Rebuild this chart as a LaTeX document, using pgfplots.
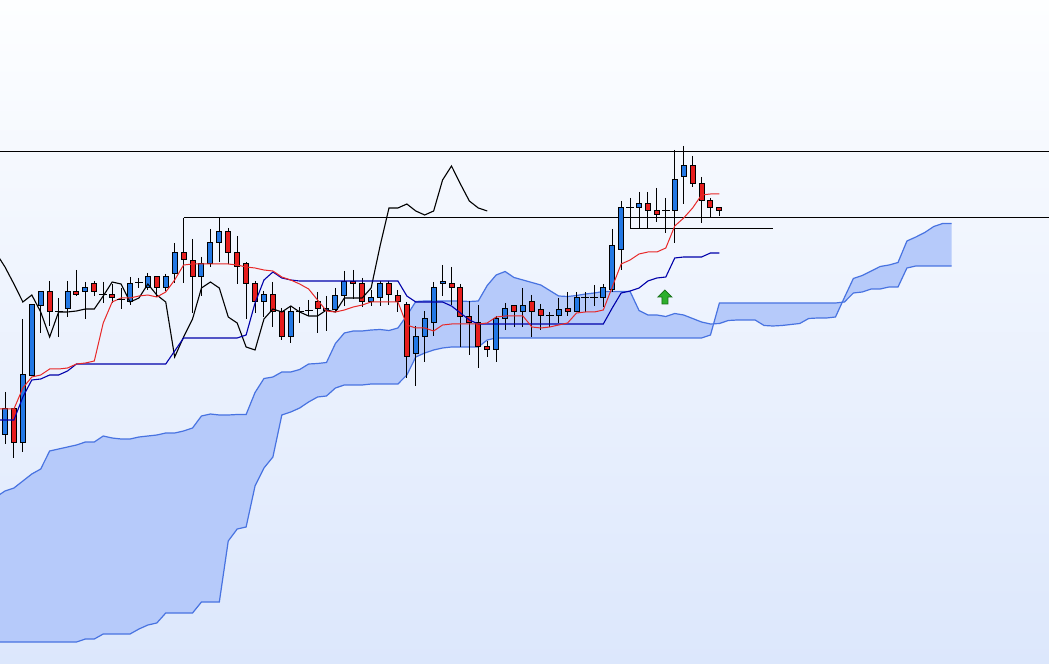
\documentclass[border=0pt]{standalone}
\usepackage{pgfplots}
\pgfplotsset{compat=1.18}
\usepgfplotslibrary{fillbetween}
\usepackage{pgfplotstable}

\definecolor{bgtop}{RGB}{253,254,255}
\definecolor{bgbot}{RGB}{220,231,252}
\definecolor{candleblue}{RGB}{35,120,228}
\definecolor{candlered}{RGB}{230,30,30}
\definecolor{tenkan}{RGB}{232,40,40}
\definecolor{kijun}{RGB}{0,0,170}
\definecolor{cloudfill}{RGB}{182,202,250}
\definecolor{cloudline}{RGB}{72,115,225}
\definecolor{arrowfill}{RGB}{45,175,45}
\definecolor{arrowline}{RGB}{20,110,20}

\pgfdeclareplotmark{uparrow}{%
  \pgfpathmoveto{\pgfqpoint{0bp}{7bp}}%
  \pgfpathlineto{\pgfqpoint{7bp}{0bp}}%
  \pgfpathlineto{\pgfqpoint{3bp}{0bp}}%
  \pgfpathlineto{\pgfqpoint{3bp}{-7bp}}%
  \pgfpathlineto{\pgfqpoint{-3bp}{-7bp}}%
  \pgfpathlineto{\pgfqpoint{-3bp}{0bp}}%
  \pgfpathlineto{\pgfqpoint{-7bp}{0bp}}%
  \pgfpathclose
  \pgfusepathqfillstroke}

% candles: i = bar index, t/b = body top/bottom, h/l = high/low (price scale drawn downwards)
\pgfplotstableread{
i t b h l
0 409 434 392 444
2 375 442 319 452
3 305 376 305 376
4 292 306 292 333
7 292 309 281 317
9 288 292 282 319
14 284 302 277 305
16 277 288 273 290
18 277 288 274 291
19 253 274 243 283
22 264 277 257 296
23 243 264 229 267
24 232 243 218 262
29 295 302 291 317
32 312 337 307 343
36 309 311 296 331
37 296 310 288 312
38 282 296 271 306
41 298 302 290 306
42 284 298 281 306
46 337 354 326 386
47 319 337 311 362
48 288 323 282 336
49 282 284 265 296
55 319 350 316 362
56 309 319 303 330
58 306 312 288 327
62 310 316 298 323
64 298 312 292 312
67 288 298 284 307
68 246 290 229 292
69 208 250 201 270
71 204 208 192 229
75 180 211 150 243
76 166 177 146 204
}\bull

\pgfplotstableread{
i t b h l
1 409 442 409 458
5 292 312 281 326
8 292 295 270 296
10 284 292 281 296
12 295 298 284 303
17 277 288 277 297
20 253 260 218 283
21 261 277 239 313
25 232 253 228 264
26 253 267 236 284
27 264 284 262 319
28 284 302 281 313
30 295 312 282 327
31 312 337 308 340
35 302 309 292 333
39 282 284 270 299
40 284 302 278 307
43 284 295 281 305
44 296 302 290 312
45 305 357 302 378
50 284 288 267 305
51 288 317 284 347
52 317 323 301 355
53 323 347 305 368
54 347 350 341 357
57 306 312 306 327
59 302 312 295 337
60 310 316 304 330
63 309 312 292 316
72 204 211 192 229
73 211 215 188 222
77 166 184 156 187
78 184 201 177 223
79 201 208 198 218
80 208 211 208 216
}\bear

\pgfplotstableread{
i t b h l
6 312 312 298 337
11 295 295 282 303
13 300 300 288 309
15 283 283 278 288
33 312 312 307 323
34 311 311 300 316
61 316 316 312 327
65 298 298 292 312
66 298 298 285 306
70 208 208 198 229
74 211 211 198 233
}\doji

% tenkan-sen and kijun-sen
\pgfplotstableread{
i tk kj
-1 409 420
0 409 420
1 409 420
2 388 397
3 377 380
4 375 379
5 369 375
6 369 375
7 368 371
8 364 364
9 363 364
10 361 364
11 323 364
12 302 364
13 298 364
14 298 364
15 296 364
16 295 364
17 297 364
18 292 364
19 280 351
20 265 338
21 264 338
22 264 338
23 264 338
24 264 338
25 264 338
26 265 338
27 267 335
28 268 303
29 270 280
30 271 272
31 277 278
32 280 280
33 284 281
34 289 281
35 300 281
36 311 281
37 312 281
38 310 281
39 307 281
40 305 281
41 302 281
42 302 281
43 302 281
44 302 281
45 325 296
46 328 302
47 328 302
48 331 302
49 325 302
50 324 306
51 324 313
52 324 320
53 324 324
54 323 324
55 317 324
56 316 324
57 316 324
58 316 324
59 327 324
60 328 324
61 327 324
62 325 324
63 323 324
64 313 324
65 312 324
66 312 324
67 310 324
68 287 308
69 264 293
70 260 291
71 254 288
72 252 281
73 252 278
74 248 277
75 226 258
76 218 257
77 208 257
78 195 257
79 194 253
80 194 253
}\lines

% chikou span
\pgfplotstableread{
i c
-1 253
0 267
1 284
2 302
3 295
4 312
5 337
6 312
7 312
8 311
9 309
10 309
11 296
12 282
13 284
14 302
15 298
16 284
17 295
18 302
19 357
20 337
21 319
22 288
23 282
24 288
25 317
26 323
27 347
28 350
29 319
30 309
31 312
32 306
33 312
34 316
35 316
36 310
37 312
38 298
39 298
40 298
41 288
42 246
43 208
44 208
45 204
46 211
47 215
48 211
49 180
50 166
51 184
52 201
53 208
54 211
}\chikou

% senkou span A and B
\pgfplotstableread{
i a b
-1 497 642
0 491 642
1 488 642
2 481 642
3 474 642
4 469 642
5 451 642
6 449 642
7 447 642
8 445 642
9 442 639
10 442 639
11 436 634
12 438 634
13 439 634
14 439 634
15 437 629
16 436 625
17 435 623
18 433 613
19 433 613
20 431 613
21 428 613
22 416 602
23 414 602
24 415 602
25 415 541
26 414.5 529
27 414.5 527
28 392.5 486
29 378.5 468
30 377 457
31 372 415
32 372 412
33 369.5 408
34 364 402
35 363.5 397
36 362.5 396
37 343.5 388
38 333 385
39 331 385
40 331 385
41 330 384
42 329.5 384
43 330.5 384
44 328 384
45 315.5 375
46 301.5 357
47 301 353
48 301 350
49 301 348
50 301 347
51 301 347
52 301.5 347
53 301 347
54 285.5 340
55 275 338
56 271.5 338
57 277.5 338
58 280 338
59 282.5 338
60 285 338
61 290.5 338
62 296 338
63 296.5 338
64 295.5 338
65 294 338
66 293 338
67 291.5 338
68 291.5 338
69 291.5 338
70 291.5 338
71 310.5 338
72 315 338
73 315 338
74 316.5 338
75 313.5 338
76 315 338
77 318.5 338
78 322 338
79 324 335
80 323.5 303
81 320.5 303
82 320 303
83 320 303
84 320 303
85 325.5 303
86 326 303
87 325.5 303
88 324.5 303
89 323.5 303
90 318.5 303
91 318 303
92 318 303
93 317 303
94 297.5 302
95 278.5 293
96 275.5 292
97 271 289
98 266.5 289
99 265 287
100 262.5 287
101 241 268
102 237 266
103 232.5 266
104 226.5 266
105 223.5 266
106 223.5 266
}\cloud

\begin{document}
\begin{tikzpicture}
\begin{axis}[
  width=1049bp, height=663bp, scale only axis,
  xmin=-0.56, xmax=116.91, ymin=0, ymax=663, y dir=reverse,
  axis line style={draw=none}, ticks=none,
  axis background/.style={top color=bgtop, bottom color=bgbot},
  every axis plot/.append style={forget plot},
]
% kumo
\addplot[draw=none, name path=spanA] table[x=i, y=a] {\cloud};
\addplot[draw=none, name path=spanB] table[x=i, y=b] {\cloud};
\addplot[fill=cloudfill, draw=none] fill between[of=spanA and spanB];
\addplot[cloudline, line width=1.2bp] table[x=i, y=a] {\cloud};
\addplot[cloudline, line width=1.2bp] table[x=i, y=b] {\cloud};

% horizontal levels
\addplot[black, line width=1bp] coordinates {(-1,152) (118,152)};
\addplot[black, line width=1bp] coordinates {(20,218) (118,218)};
\addplot[black, line width=1bp] coordinates {(70,229) (86,229)};

% wicks
\addplot[draw=none, mark=none, error bars/.cd, y dir=plus, y explicit, error mark=none,
  error bar style={draw=black, line width=1bp}]
  table[x=i, y=h, y error plus expr={\thisrow{l}-\thisrow{h}}] {\bull};
\addplot[draw=none, mark=none, error bars/.cd, y dir=plus, y explicit, error mark=none,
  error bar style={draw=black, line width=1bp}]
  table[x=i, y=h, y error plus expr={\thisrow{l}-\thisrow{h}}] {\bear};
\addplot[draw=none, mark=none, error bars/.cd, y dir=plus, y explicit, error mark=none,
  error bar style={draw=black, line width=1bp}]
  table[x=i, y=h, y error plus expr={\thisrow{l}-\thisrow{h}}] {\doji};

% bodies: black outline, coloured inside
\addplot[draw=none, mark=none, error bars/.cd, y dir=plus, y explicit, error mark=none,
  error bar style={draw=black, line width=6bp}]
  table[x=i, y expr={\thisrow{t}-0.5}, y error plus expr={\thisrow{b}-\thisrow{t}+1}] {\bull};
\addplot[draw=none, mark=none, error bars/.cd, y dir=plus, y explicit, error mark=none,
  error bar style={draw=candleblue, line width=4bp}]
  table[x=i, y expr={\thisrow{t}+0.5}, y error plus expr={max(\thisrow{b}-\thisrow{t}-1,0)}] {\bull};
\addplot[draw=none, mark=none, error bars/.cd, y dir=plus, y explicit, error mark=none,
  error bar style={draw=black, line width=6bp}]
  table[x=i, y expr={\thisrow{t}-0.5}, y error plus expr={\thisrow{b}-\thisrow{t}+1}] {\bear};
\addplot[draw=none, mark=none, error bars/.cd, y dir=plus, y explicit, error mark=none,
  error bar style={draw=candlered, line width=4bp}]
  table[x=i, y expr={\thisrow{t}+0.5}, y error plus expr={max(\thisrow{b}-\thisrow{t}-1,0)}] {\bear};
\addplot[only marks, mark=-, mark size=4bp, mark options={draw=black, line width=1bp}]
  table[x=i, y=t] {\doji};

% indicator lines
\addplot[black, line width=1.1bp] table[x=i, y=c] {\chikou};
\addplot[kijun, line width=1.1bp] table[x=i, y=kj] {\lines};
\addplot[tenkan, line width=1bp] table[x=i, y=tk] {\lines};

% signal arrow
\addplot[only marks, mark=uparrow, mark options={fill=arrowfill, draw=arrowline, line width=0.8bp}]
  coordinates {(73.9,297)};
\end{axis}
\end{tikzpicture}
\end{document}
